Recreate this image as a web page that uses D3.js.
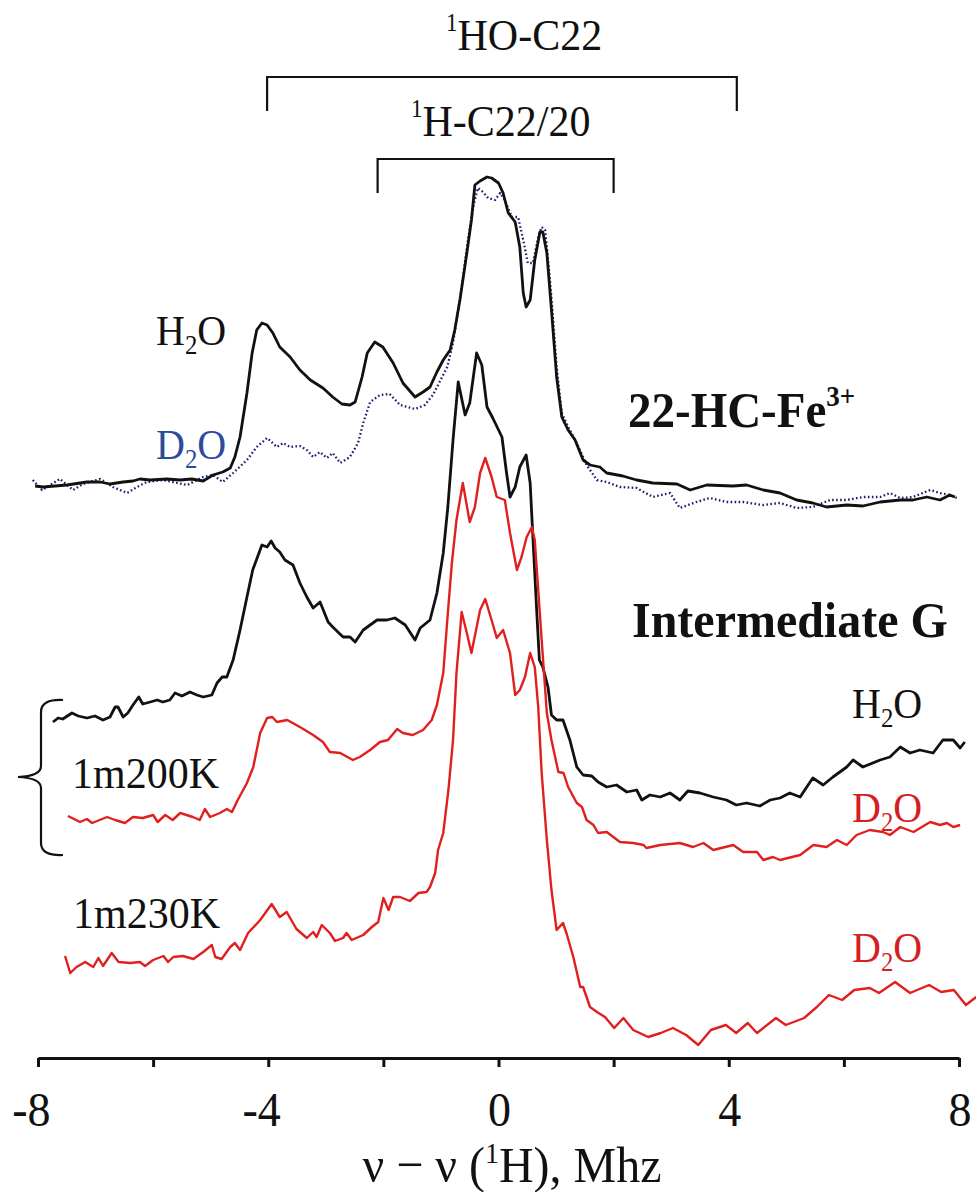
<!DOCTYPE html>
<html><head><meta charset="utf-8">
<script src="https://cdn.jsdelivr.net/npm/d3@7"></script>
<style>
body{margin:0;background:#fff}
svg{display:block}
text{font-family:"Liberation Serif","Times New Roman",Times,serif;fill:#111}
</style>
</head><body>
<svg id="c" width="976" height="1192"></svg>
<script>
// ---- axis ----
const xTicks = [-8,-6,-4,-2,0,2,4,6,8];
const xTickLabels = {"-8":"-8","-4":"-4","0":"0","4":"4","8":"8"};

// ---- series: [MHz, intensity (arb. units)] ----
const h2oFe = [[-8.05,572],[-7.91,571],[-7.50,573],[-7.15,576],[-6.92,576],[-6.75,574],[-6.52,576],[-6.35,577],[-6.23,579],[-6.05,578],[-5.76,579],[-5.53,578],[-5.33,579],[-5.13,577],[-4.96,583],[-4.79,586],[-4.66,590],[-4.58,601],[-4.49,621],[-4.37,665],[-4.28,705],[-4.20,728],[-4.11,735],[-4.02,733],[-3.92,725],[-3.80,711],[-3.62,701],[-3.45,688],[-3.27,678],[-3.05,670],[-2.88,661],[-2.72,654],[-2.58,653],[-2.49,656],[-2.37,681],[-2.28,705],[-2.15,716],[-2.01,711],[-1.83,695],[-1.66,675],[-1.45,661],[-1.31,666],[-1.19,671],[-1.07,686],[-0.96,698],[-0.84,708],[-0.76,728],[-0.67,758],[-0.55,805],[-0.47,838],[-0.41,873],[-0.32,877],[-0.20,881],[-0.12,880],[0.00,875],[0.08,865],[0.17,845],[0.29,836],[0.37,811],[0.43,765],[0.48,751],[0.55,758],[0.63,798],[0.72,826],[0.77,826],[0.84,805],[0.92,748],[1.01,681],[1.10,641],[1.21,628],[1.33,618],[1.47,598],[1.59,593],[1.76,591],[1.88,585],[2.16,582],[2.40,578],[2.68,575],[3.10,574],[3.33,568],[3.62,573],[4.07,572],[4.31,573],[4.60,568],[4.89,565],[5.18,558],[5.46,555],[5.70,551],[6.05,553],[6.33,552],[6.63,556],[6.98,558],[7.20,558],[7.44,561],[7.67,558],[7.84,563],[7.93,561]];

const d2oFe = [[-8.09,578],[-7.93,568],[-7.62,579],[-7.39,568],[-7.22,574],[-6.92,579],[-6.70,571],[-6.45,565],[-6.28,571],[-6.11,576],[-5.83,578],[-5.66,576],[-5.41,573],[-5.13,581],[-4.96,583],[-4.79,576],[-4.61,585],[-4.37,598],[-4.20,611],[-4.02,620],[-3.85,611],[-3.74,615],[-3.62,611],[-3.45,612],[-3.33,608],[-3.22,601],[-3.10,606],[-2.98,600],[-2.88,605],[-2.75,595],[-2.58,601],[-2.44,615],[-2.35,635],[-2.23,656],[-2.06,663],[-1.89,664],[-1.71,653],[-1.45,649],[-1.28,653],[-1.14,663],[-0.89,691],[-0.79,715],[-0.64,771],[-0.53,818],[-0.44,851],[-0.36,870],[-0.27,866],[-0.18,860],[-0.06,858],[0.03,865],[0.11,858],[0.23,841],[0.34,841],[0.43,818],[0.51,795],[0.60,795],[0.69,821],[0.75,831],[0.81,828],[0.89,781],[0.95,738],[1.01,691],[1.10,645],[1.21,631],[1.36,615],[1.53,593],[1.71,578],[1.88,576],[2.11,571],[2.40,570],[2.68,561],[2.98,565],[3.15,550],[3.44,556],[3.67,560],[3.96,556],[4.25,556],[4.60,553],[4.89,555],[5.18,550],[5.46,551],[5.76,558],[6.05,558],[6.33,561],[6.63,561],[6.80,565],[6.98,560],[7.20,561],[7.50,568],[7.67,565],[7.84,563],[7.96,560]];

const h2oG = [[-7.74,336],[-7.65,340],[-7.57,339],[-7.41,345],[-7.30,342],[-7.15,340],[-7.01,342],[-6.87,338],[-6.75,341],[-6.66,351],[-6.61,351],[-6.52,341],[-6.44,345],[-6.35,353],[-6.25,361],[-6.18,354],[-6.05,356],[-5.93,358],[-5.83,356],[-5.71,358],[-5.62,365],[-5.50,362],[-5.36,366],[-5.24,363],[-5.13,361],[-4.98,363],[-4.89,375],[-4.80,381],[-4.72,381],[-4.61,398],[-4.49,428],[-4.37,461],[-4.27,488],[-4.11,513],[-4.02,511],[-3.95,517],[-3.88,510],[-3.80,506],[-3.71,498],[-3.57,493],[-3.45,475],[-3.33,461],[-3.22,450],[-3.10,456],[-2.96,436],[-2.88,431],[-2.70,421],[-2.58,421],[-2.49,416],[-2.35,428],[-2.11,438],[-1.94,438],[-1.80,440],[-1.62,433],[-1.45,418],[-1.36,430],[-1.19,438],[-1.07,465],[-0.96,505],[-0.88,551],[-0.79,618],[-0.70,676],[-0.58,643],[-0.50,655],[-0.38,705],[-0.29,693],[-0.20,651],[-0.10,640],[0.06,621],[0.14,585],[0.20,561],[0.29,571],[0.37,591],[0.48,603],[0.55,575],[0.60,518],[0.66,451],[0.71,398],[0.77,391],[0.86,371],[0.92,343],[1.01,338],[1.12,338],[1.24,318],[1.36,291],[1.47,283],[1.62,282],[1.73,276],[1.88,271],[2.05,273],[2.23,266],[2.40,268],[2.49,258],[2.63,263],[2.81,261],[2.98,265],[3.15,258],[3.29,267],[3.50,265],[3.73,261],[3.96,258],[4.13,253],[4.31,255],[4.54,252],[4.72,258],[4.89,260],[5.06,265],[5.24,261],[5.46,280],[5.64,273],[5.81,281],[6.05,291],[6.16,298],[6.33,291],[6.63,298],[6.80,301],[6.98,311],[7.15,305],[7.32,308],[7.55,305],[7.72,318],[7.90,318],[8.02,310],[8.10,316]];

const d2oG200 = [[-7.48,242],[-7.27,236],[-7.15,239],[-7.06,235],[-6.80,241],[-6.66,238],[-6.49,235],[-6.35,241],[-6.18,240],[-6.00,243],[-5.92,236],[-5.79,243],[-5.66,238],[-5.53,245],[-5.31,241],[-5.19,238],[-5.10,249],[-5.01,241],[-4.84,245],[-4.72,249],[-4.63,246],[-4.53,258],[-4.37,275],[-4.26,291],[-4.14,325],[-4.02,340],[-3.93,341],[-3.85,336],[-3.67,338],[-3.45,331],[-3.22,323],[-3.05,316],[-2.93,306],[-2.75,305],[-2.53,298],[-2.41,301],[-2.23,308],[-2.06,316],[-1.92,318],[-1.76,329],[-1.66,325],[-1.49,323],[-1.31,328],[-1.16,338],[-1.07,353],[-0.96,385],[-0.88,445],[-0.81,495],[-0.73,538],[-0.62,575],[-0.50,536],[-0.41,551],[-0.32,585],[-0.23,600],[-0.12,581],[-0.03,561],[0.11,558],[0.20,525],[0.32,488],[0.40,501],[0.49,521],[0.58,531],[0.63,518],[0.69,468],[0.75,418],[0.84,345],[0.92,318],[1.04,286],[1.13,285],[1.21,271],[1.36,255],[1.45,251],[1.53,238],[1.65,233],[1.73,225],[1.88,226],[2.11,216],[2.34,215],[2.52,213],[2.57,210],[2.81,213],[3.15,215],[3.38,211],[3.56,215],[3.73,208],[4.08,213],[4.25,206],[4.49,206],[4.60,198],[4.77,201],[4.89,198],[5.24,203],[5.47,213],[5.70,211],[5.88,218],[6.05,213],[6.22,223],[6.45,228],[6.68,226],[6.80,223],[6.98,231],[7.21,226],[7.50,236],[7.67,233],[7.79,235],[7.90,231],[8.02,233]];

const d2oG230 = [[-7.53,102],[-7.44,85],[-7.33,91],[-7.18,96],[-7.04,91],[-6.95,100],[-6.87,92],[-6.72,105],[-6.60,96],[-6.40,95],[-6.23,96],[-6.14,92],[-6.00,98],[-5.82,102],[-5.74,96],[-5.65,101],[-5.48,102],[-5.30,99],[-5.13,106],[-4.98,113],[-4.92,101],[-4.81,99],[-4.66,111],[-4.58,115],[-4.49,108],[-4.35,125],[-4.14,138],[-3.94,154],[-3.80,141],[-3.68,146],[-3.51,129],[-3.33,120],[-3.22,126],[-3.16,121],[-3.07,133],[-2.93,125],[-2.84,117],[-2.70,120],[-2.64,125],[-2.55,118],[-2.35,123],[-2.20,131],[-2.09,136],[-2.00,160],[-1.91,148],[-1.83,161],[-1.71,161],[-1.54,157],[-1.39,165],[-1.25,166],[-1.19,171],[-1.10,185],[-1.05,208],[-0.96,225],[-0.87,268],[-0.79,318],[-0.73,385],[-0.64,446],[-0.55,425],[-0.47,405],[-0.32,448],[-0.23,459],[-0.12,438],[-0.03,420],[0.08,428],[0.20,405],[0.29,363],[0.37,368],[0.46,381],[0.55,405],[0.63,391],[0.69,351],[0.75,285],[0.84,218],[0.92,168],[1.01,128],[1.12,135],[1.18,125],[1.30,101],[1.42,71],[1.47,71],[1.59,51],[1.71,46],[1.85,41],[2.01,30],[2.17,40],[2.34,28],[2.60,21],[2.82,25],[3.03,30],[3.26,23],[3.47,13],[3.69,28],[3.95,33],[4.13,25],[4.33,35],[4.49,25],[4.82,40],[4.99,33],[5.31,40],[5.53,51],[5.74,63],[5.97,58],[6.18,68],[6.45,70],[6.61,65],[6.89,76],[7.15,65],[7.48,73],[7.69,66],[7.91,68],[8.12,53],[8.30,61]];

// bracket annotations: [left MHz, right MHz]
const bracketHO = [-4.02, 4.14];
const bracketH = [-2.10, 2.00];

// ---- drawing ----
const svg = d3.select("#c");
const x = d3.scaleLinear().domain([-8, 8]).range([38, 959]);
const y = d3.scaleLinear().domain([0, 1000]).range([1058, 58]);
const line = d3.line().x(d => x(d[0])).y(d => y(d[1]));
const SY = 1.07; // vertical stretch of the lettering

const series = [
  {data: d2oFe, color: "#1c1c72", width: 2.3, dash: "1.6,2.4"},
  {data: h2oFe, color: "#111", width: 2.8},
  {data: h2oG, color: "#111", width: 2.8},
  {data: d2oG200, color: "#e0201e", width: 2.4},
  {data: d2oG230, color: "#e0201e", width: 2.4}
];
series.forEach(s => {
  svg.append("path").attr("d", line(s.data)).attr("fill", "none")
    .attr("stroke", s.color).attr("stroke-width", s.width)
    .attr("stroke-linejoin", "round")
    .attr("stroke-dasharray", s.dash || null);
});

// axis
const ax = svg.append("g").attr("transform", "translate(0,1058)")
  .call(d3.axisBottom(x).tickValues(xTicks).tickSize(9).tickSizeOuter(0)
    .tickFormat(d => xTickLabels[String(d)] || ""));
ax.attr("font-family", null);
ax.select(".domain").attr("stroke", "#111").attr("stroke-width", 3);
ax.selectAll(".tick line").attr("stroke", "#111").attr("stroke-width", 3);
ax.selectAll(".tick text")
  .attr("font-size", 46).attr("fill", "#111").attr("text-anchor", "end")
  .attr("dy", null).attr("y", 0).attr("x", 0)
  .attr("transform", `translate(12,68) scale(1,${SY})`);

// text helper with vertical stretch about the baseline
function txt(xp, yp, size, opts = {}) {
  const t = svg.append("text").attr("transform", `translate(${xp},${yp}) scale(1,${SY})`)
    .attr("font-size", size);
  if (opts.anchor) t.attr("text-anchor", opts.anchor);
  if (opts.bold) t.attr("font-weight", "bold");
  if (opts.color) t.style("fill", opts.color);
  return t;
}

// axis title
const t = txt(512, 1182, 48, {anchor: "middle"});
t.append("tspan").text("\u03bd \u2212 \u03bd (");
t.append("tspan").text("1").attr("font-size", 28).attr("dy", -18);
t.append("tspan").text("H), Mhz").attr("dy", 18);

// brackets
function bracket(b, yTop, yBot) {
  svg.append("path")
    .attr("d", `M${x(b[0])},${y(yBot)}V${y(yTop)}H${x(b[1])}V${y(yBot)}`)
    .attr("fill", "none").attr("stroke", "#111").attr("stroke-width", 2.2);
}
bracket(bracketHO, 981, 947);
bracket(bracketH, 899, 865);

function supLabel(xp, yp, sup, main, size) {
  const tt = txt(xp, yp, size);
  tt.append("tspan").text(sup).attr("font-size", size * 0.55).attr("dy", -size * 0.42);
  tt.append("tspan").text(main).attr("dy", size * 0.42);
}
supLabel(446, 50, "1", "HO-C22", 42);
supLabel(411, 136, "1", "H-C22/20", 42);

function subLabel(xp, yp, a, sub, b, size, color) {
  const tt = txt(xp, yp, size, {color});
  tt.append("tspan").text(a);
  tt.append("tspan").text(sub).attr("font-size", size * 0.62).attr("dy", size * 0.2);
  tt.append("tspan").text(b).attr("dy", -size * 0.2);
}
subLabel(156, 345, "H", "2", "O", 40, "#111");
subLabel(156, 459, "D", "2", "O", 40, "#2b4b9b");
subLabel(852, 718, "H", "2", "O", 40, "#111");
subLabel(852, 822, "D", "2", "O", 40, "#d42020");
subLabel(852, 962, "D", "2", "O", 40, "#d42020");

// bold titles
const fe = txt(628, 427, 47, {bold: true});
fe.append("tspan").text("22-HC-Fe");
fe.append("tspan").text("3+").attr("font-size", 27).attr("dy", -20);
txt(632, 637, 48, {bold: true}).text("Intermediate G");

txt(72, 788, 42).text("1m200K");
txt(73, 928, 42).text("1m230K");

// curly brace
svg.append("path")
  .attr("d", "M63,700 Q41,699 41,712 L41,766 Q41,776 18,777 Q41,778 41,788 L41,843 Q41,856 63,855")
  .attr("fill", "none").attr("stroke", "#111").attr("stroke-width", 2.2);
</script>
</body></html>
